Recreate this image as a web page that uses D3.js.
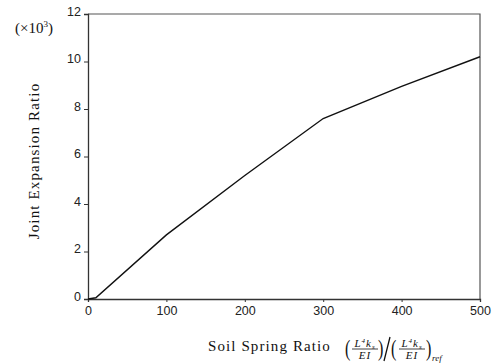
<!DOCTYPE html>
<html>
<head>
<meta charset="utf-8">
<script src="https://cdn.jsdelivr.net/npm/d3@7"></script>
<style>
  body { margin: 0; background: #fff; }
  svg { display: block; }
</style>
</head>
<body>
<svg id="plot"></svg>
<script>
// Data (y in units of 10^3)
const springRatio = [0, 10, 100, 200, 300, 400, 500];
const expansionRatio = [0, 0.05, 2.7, 5.2, 7.6, 8.95, 10.2];
const xTicks = [0, 100, 200, 300, 400, 500];
const yTicks = [0, 2, 4, 6, 8, 10, 12];

const margin = {top: 14, right: 20, bottom: 65, left: 88},
      width = 500 - margin.left - margin.right,
      height = 364 - margin.top - margin.bottom;

const x = d3.scaleLinear().domain([0, 500]).range([0, width]);
const y = d3.scaleLinear().domain([0, 12]).range([height, 0]);

const root = d3.select("#plot")
    .attr("width", 500)
    .attr("height", 364);

const svg = root.append("g")
    .attr("transform", "translate(" + margin.left + "," + margin.top + ")");

// frame (top and right)
svg.append("path")
    .attr("d", "M0,0H" + width + "V" + height)
    .attr("fill", "none")
    .attr("stroke", "#555")
    .attr("stroke-width", 1.2);

// x axis
const xAxis = svg.append("g")
    .attr("transform", "translate(0," + height + ")")
    .call(d3.axisBottom(x).tickValues(xTicks).tickSize(3).tickPadding(4));

// y axis
const yAxis = svg.append("g")
    .call(d3.axisLeft(y).tickValues(yTicks).tickSize(4).tickPadding(3));

[xAxis, yAxis].forEach(a => {
  a.select(".domain").attr("stroke", "#333").attr("stroke-width", 1.3);
  a.selectAll(".tick line").attr("stroke", "#333");
  a.selectAll(".tick text")
      .attr("font-family", "'Liberation Sans', Arial, sans-serif")
      .attr("font-size", 12.5)
      .attr("fill", "#222");
});
yAxis.selectAll(".tick text").attr("dy", "0.1em");

// the curve
const line = d3.line()
    .x((d, i) => x(springRatio[i]))
    .y(d => y(d));

svg.append("path")
    .datum(expansionRatio)
    .attr("fill", "none")
    .attr("stroke", "#111")
    .attr("stroke-width", 1.4)
    .attr("d", line);

const serif = "'Liberation Serif', 'Times New Roman', serif";

// multiplier label
const mult = root.append("text")
    .attr("x", 15)
    .attr("y", 33)
    .attr("font-family", serif)
    .attr("font-size", 15)
    .attr("fill", "#111");
mult.append("tspan").text("(\u00d710");
mult.append("tspan").attr("font-size", 9).attr("dy", -6).text("3");
mult.append("tspan").attr("dy", 6).text(")");

// y axis title
root.append("text")
    .attr("transform", "translate(39,161) rotate(-90)")
    .attr("text-anchor", "middle")
    .attr("font-family", serif)
    .attr("font-size", 15)
    .attr("letter-spacing", 1.15)
    .attr("fill", "#111")
    .text("Joint Expansion Ratio");

// x axis title
root.append("text")
    .attr("x", 208)
    .attr("y", 351)
    .attr("font-family", serif)
    .attr("font-size", 15)
    .attr("letter-spacing", 1.1)
    .attr("fill", "#111")
    .text("Soil Spring Ratio");

// the (L^4 k_s / EI) / (L^4 k_s / EI)_ref expression
function fraction(cx) {
  const g = root.append("g").attr("font-family", serif).attr("font-style", "italic")
      .attr("font-size", 11).attr("fill", "#111");
  const num = g.append("text").attr("x", cx).attr("y", 346.5).attr("text-anchor", "middle")
      .attr("letter-spacing", 1);
  num.append("tspan").text("L");
  num.append("tspan").attr("font-size", 7).attr("dy", -4).text("4");
  num.append("tspan").attr("dy", 4).text("k");
  num.append("tspan").attr("font-size", 7).attr("dy", 2).text("s");
  g.append("line").attr("x1", cx - 13).attr("x2", cx + 13)
      .attr("y1", 349).attr("y2", 349).attr("stroke", "#111").attr("stroke-width", 0.8);
  g.append("text").attr("x", cx).attr("y", 359).attr("text-anchor", "middle")
      .attr("letter-spacing", 1).text("EI");
}
function paren(px, ch) {
  root.append("text")
      .attr("x", px).attr("y", 356)
      .attr("font-family", serif)
      .attr("font-size", 23)
      .attr("transform", "translate(" + px + ",356) scale(0.7,1) translate(" + (-px) + ",-356)")
      .attr("fill", "#111")
      .text(ch);
}
paren(345, "(");
fraction(365);
paren(378, ")");
// division slash
root.append("line")
    .attr("x1", 390).attr("y1", 337)
    .attr("x2", 384).attr("y2", 361)
    .attr("stroke", "#111").attr("stroke-width", 1.3);
paren(391, "(");
fraction(412);
paren(426, ")");
root.append("text").attr("x", 432).attr("y", 361)
    .attr("font-family", serif).attr("font-style", "italic")
    .attr("font-size", 9).attr("fill", "#111").text("ref");
</script>
</body>
</html>
